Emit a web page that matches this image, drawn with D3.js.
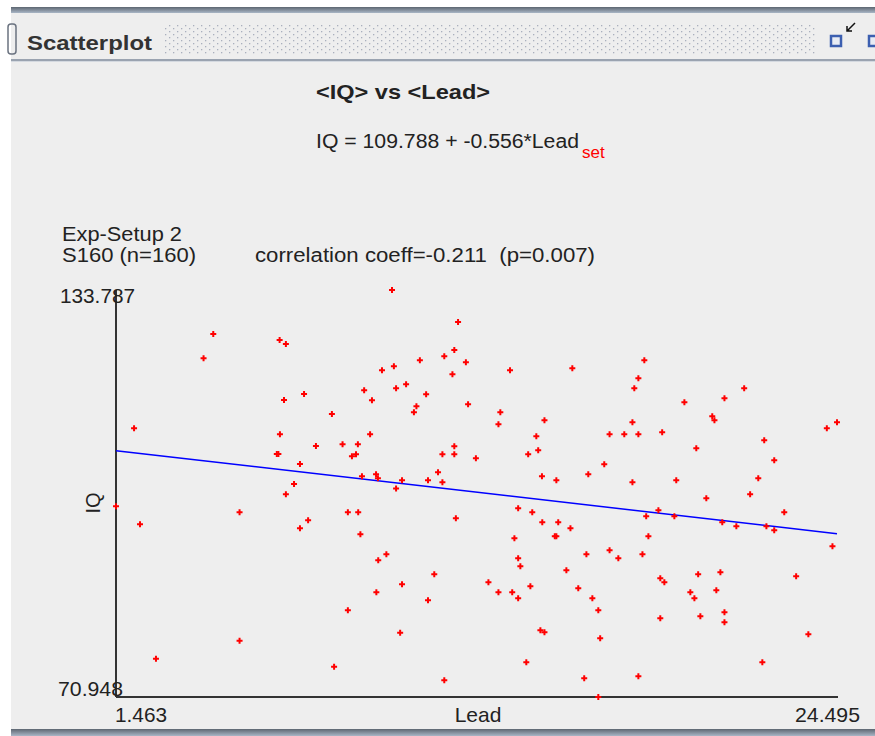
<!DOCTYPE html>
<html>
<head>
<meta charset="utf-8">
<script src="https://cdn.jsdelivr.net/npm/d3@7"></script>
<style>
  body { margin: 0; background: #fff; }
  text { font-family: "Liberation Sans", Arial, sans-serif; }
</style>
</head>
<body>
<script>
var width = 875;
var height = 736;

// values
var leadValues = [
  4.57, 4.26, 6.69, 6.89, 2.04, 6.83, 7.47, 8.36, 6.70, 7.85,
  8.70, 6.60, 6.65, 7.34, 7.15, 6.89, 10.28, 12.39, 12.27, 11.95,
  11.17, 12.64, 9.96, 10.34, 12.21, 14.05, 16.04, 9.39, 10.41, 10.73,
  9.64, 11.37, 11.06, 10.98, 12.71, 13.74, 13.68, 15.15, 9.58, 9.19,
  9.00, 9.13, 14.89, 12.27, 11.89, 12.27, 12.96, 14.63, 14.95, 17.23,
  17.06, 16.55, 15.07, 15.53, 9.32, 9.77, 9.83, 10.60, 11.75, 11.43,
  11.89, 10.41, 18.34, 18.15, 18.02, 19.62, 21.53, 20.90, 20.51, 20.58,
  17.96, 17.70, 18.15, 18.91, 20.00, 22.17, 22.49, 24.17, 24.495, 17.96,
  19.36, 20.32, 21.98, 21.72, 1.463, 2.23, 5.41, 7.60, 7.34, 8.87,
  8.87, 5.41, 2.74, 8.43, 9.20, 9.27, 12.32, 14.31, 14.76, 15.08,
  15.59, 15.98, 15.48, 15.53, 14.19, 10.10, 9.84, 14.31, 14.38, 16.49,
  17.23, 11.63, 15.85, 10.60, 13.36, 13.68, 14.12, 14.70, 14.31, 9.78,
  11.43, 16.23, 16.68, 16.87, 10.54, 15.02, 15.15, 16.93, 14.57, 11.95,
  16.42, 16.87, 22.81, 18.79, 18.40, 19.30, 20.83, 21.28, 22.24, 22.49,
  24.35, 18.47, 17.51, 18.28, 18.85, 18.98, 20.06, 20.77, 23.19, 19.81,
  19.94, 20.64, 18.85, 20.13, 20.90, 20.90, 23.58, 22.11, 18.15
];
var iqValues = [
  126.99, 123.24, 126.07, 125.45, 112.43, 116.80, 117.73, 114.64, 111.51, 109.70,
  109.96, 108.47, 108.47, 106.92, 103.83, 102.24, 133.787, 128.85, 124.52, 123.55,
  122.93, 122.62, 121.39, 122.01, 120.77, 121.39, 121.70, 118.30, 118.61, 119.23,
  116.76, 117.68, 115.83, 114.91, 116.14, 114.91, 113.05, 113.67, 111.51, 109.96,
  108.11, 108.42, 111.20, 109.66, 108.42, 108.42, 107.80, 108.42, 109.04, 111.51,
  106.88, 105.33, 105.02, 104.41, 105.02, 105.33, 104.71, 104.41, 105.64, 104.41,
  104.10, 103.14, 122.93, 120.15, 118.61, 116.45, 118.61, 117.07, 114.29, 113.67,
  113.36, 111.51, 111.51, 111.82, 109.35, 110.58, 107.49, 112.43, 113.36, 104.10,
  104.41, 101.63, 104.71, 102.24, 100.39, 97.61, 99.47, 98.23, 96.99, 99.47,
  84.33, 79.64, 76.86, 75.63, 99.47, 96.07, 98.54, 100.08, 99.47, 97.92,
  97.92, 96.99, 95.76, 95.76, 95.45, 92.98, 92.05, 92.36, 91.13, 92.98,
  93.60, 89.89, 90.51, 88.35, 88.66, 87.11, 87.11, 88.04, 86.19, 87.11,
  85.88, 87.73, 86.19, 84.33, 80.88, 81.25, 80.94, 80.01, 76.31, 73.53,
  73.84, 70.948, 99.47, 99.77, 98.85, 98.85, 97.92, 97.30, 97.30, 96.69,
  94.22, 95.76, 92.36, 92.98, 89.27, 88.66, 89.89, 90.20, 89.58, 87.11,
  86.19, 87.42, 83.10, 83.41, 84.03, 82.48, 80.63, 76.31, 74.14
];
var xTickLabels = ["1.463", "24.495"];
var yTickLabels = ["70.948", "133.787"];
var intercept = 109.788;
var slope = -0.556;

var points = leadValues.map(function(d, i) { return { lead: d, iq: iqValues[i] }; });

var svg = d3.select('body')
  .append('svg')
  .attr('width', width)
  .attr('height', height);

var defs = svg.append('defs');
var dots = defs.append('pattern')
  .attr('id', 'dots')
  .attr('width', 8)
  .attr('height', 6)
  .attr('patternUnits', 'userSpaceOnUse');
dots.append('rect').attr('x', 1).attr('y', 1).attr('width', 1.3).attr('height', 1.3).attr('fill', '#a9afbd');
dots.append('rect').attr('x', 5).attr('y', 4).attr('width', 1.3).attr('height', 1.3).attr('fill', '#a9afbd');

var barGrad = defs.append('linearGradient').attr('id', 'bar').attr('x1', 0).attr('x2', 0).attr('y1', 0).attr('y2', 1);
barGrad.append('stop').attr('offset', '0%').attr('stop-color', '#5d6671');
barGrad.append('stop').attr('offset', '100%').attr('stop-color', '#a9b6c6');

// frame
svg.append('rect').attr('x', 11).attr('y', 7).attr('width', width - 11).attr('height', height - 7).attr('fill', '#eeeeee');
svg.append('rect').attr('x', 11).attr('y', 7).attr('width', width - 11).attr('height', 6).attr('fill', 'url(#bar)');
svg.append('rect').attr('x', 11).attr('y', 59).attr('width', width - 11).attr('height', 2).attr('fill', '#9aa3b0');
svg.append('rect').attr('x', 11).attr('y', 61).attr('width', width - 11).attr('height', 1).attr('fill', '#d4d9e0');
svg.append('rect').attr('x', 11).attr('y', 729).attr('width', width - 11).attr('height', 7).attr('fill', 'url(#bar)');

// title bar
svg.append('rect').attr('x', 8).attr('y', 24).attr('width', 8).attr('height', 30).attr('rx', 3)
  .attr('fill', 'none').attr('stroke', '#6b7380').attr('stroke-width', 1.5);
svg.append('text').attr('x', 27).attr('y', 50)
  .attr('font-size', 21).attr('font-weight', 'bold').attr('fill', '#333')
  .attr('textLength', 125).attr('lengthAdjust', 'spacingAndGlyphs')
  .text('Scatterplot');
svg.append('rect').attr('x', 164).attr('y', 24).attr('width', 652).attr('height', 30).attr('fill', 'url(#dots)');

svg.append('rect').attr('x', 831).attr('y', 36).attr('width', 10).attr('height', 10)
  .attr('fill', '#e8ecf4').attr('stroke', '#3c5fb0').attr('stroke-width', 2.5);
svg.append('path').attr('d', 'M855,23 L847,31 M847,26 L847,31 L852,31')
  .attr('fill', 'none').attr('stroke', '#111').attr('stroke-width', 1.5);
svg.append('rect').attr('x', 869).attr('y', 36).attr('width', 10).attr('height', 10)
  .attr('fill', '#e8ecf4').attr('stroke', '#3c5fb0').attr('stroke-width', 2.5);

// headings
svg.append('text').attr('x', 316).attr('y', 99)
  .attr('font-size', 21).attr('font-weight', 'bold').attr('fill', '#222')
  .attr('textLength', 174).attr('lengthAdjust', 'spacingAndGlyphs')
  .text('<IQ> vs <Lead>');
svg.append('text').attr('x', 316).attr('y', 148)
  .attr('font-size', 20).attr('fill', '#222')
  .attr('textLength', 263).attr('lengthAdjust', 'spacingAndGlyphs')
  .text('IQ = ' + intercept + ' + ' + slope + '*Lead');
svg.append('text').attr('x', 582).attr('y', 158)
  .attr('font-size', 17).attr('fill', '#ff0000').text('set');

svg.append('text').attr('x', 62).attr('y', 241).attr('font-size', 20).attr('fill', '#222')
  .attr('textLength', 120).attr('lengthAdjust', 'spacingAndGlyphs').text('Exp-Setup 2');
svg.append('text').attr('x', 62).attr('y', 262).attr('font-size', 20).attr('fill', '#222')
  .attr('textLength', 134).attr('lengthAdjust', 'spacingAndGlyphs').text('S160 (n=160)');
svg.append('text').attr('x', 255).attr('y', 262).attr('font-size', 20).attr('fill', '#222')
  .attr('xml:space', 'preserve')
  .attr('textLength', 340).attr('lengthAdjust', 'spacingAndGlyphs')
  .text('correlation coeff=-0.211  (p=0.007)');

// scales
var x = d3.scaleLinear().domain([+xTickLabels[0], +xTickLabels[1]]).range([116, 837]);
var y = d3.scaleLinear().domain([+yTickLabels[0], +yTickLabels[1]]).range([697, 290]);

// axes
svg.append('line').attr('x1', x.range()[0]).attr('x2', x.range()[0]).attr('y1', y.range()[1]).attr('y2', y.range()[0])
  .attr('stroke', '#333').attr('stroke-width', 2);
svg.append('line').attr('x1', x.range()[0]).attr('x2', x.range()[1] + 1).attr('y1', y.range()[0]).attr('y2', y.range()[0])
  .attr('stroke', '#333').attr('stroke-width', 2);

svg.append('text').attr('x', 60).attr('y', 303).attr('font-size', 21).attr('fill', '#222')
  .attr('textLength', 75).attr('lengthAdjust', 'spacingAndGlyphs').text(yTickLabels[1]);
svg.append('text').attr('x', 58).attr('y', 696).attr('font-size', 21).attr('fill', '#222')
  .attr('textLength', 65).attr('lengthAdjust', 'spacingAndGlyphs').text(yTickLabels[0]);
svg.append('text').attr('x', 115).attr('y', 722).attr('font-size', 21).attr('fill', '#222')
  .attr('textLength', 52).attr('lengthAdjust', 'spacingAndGlyphs').text(xTickLabels[0]);
svg.append('text').attr('x', 795).attr('y', 722).attr('font-size', 21).attr('fill', '#222')
  .attr('textLength', 65).attr('lengthAdjust', 'spacingAndGlyphs').text(xTickLabels[1]);
svg.append('text').attr('x', 478).attr('y', 722).attr('text-anchor', 'middle').attr('font-size', 21).attr('fill', '#222').text('Lead');
svg.append('text').attr('transform', 'translate(100,503) rotate(-90)').attr('text-anchor', 'middle')
  .attr('font-size', 20).attr('fill', '#222').text('IQ');

// regression line
var xDom = x.domain();
svg.append('line')
  .attr('x1', x(xDom[0])).attr('y1', y(intercept + slope * xDom[0]))
  .attr('x2', x(xDom[1])).attr('y2', y(intercept + slope * xDom[1]))
  .attr('stroke', '#0000ff').attr('stroke-width', 1.5);

// points
svg.append('g').selectAll('path.pt')
  .data(points)
  .enter().append('path')
  .attr('class', 'pt')
  .attr('d', function(d) {
    var px = x(d.lead), py = y(d.iq);
    return 'M' + (px - 3) + ',' + py + 'H' + (px + 3) + 'M' + px + ',' + (py - 3) + 'V' + (py + 3);
  })
  .attr('stroke', '#ff0000')
  .attr('stroke-width', 2)
  .attr('fill', 'none');
</script>
</body>
</html>
